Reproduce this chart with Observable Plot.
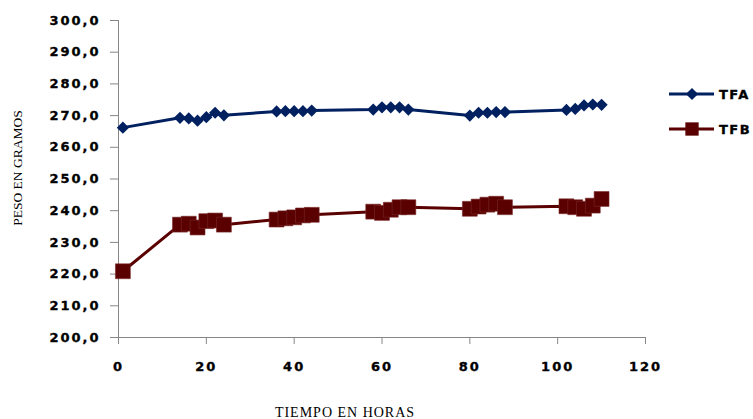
<!DOCTYPE html>
<html>
<head>
<meta charset="utf-8">
<script src="https://cdn.jsdelivr.net/npm/d3@7"></script>
<script src="https://cdn.jsdelivr.net/npm/@observablehq/plot@0.6"></script>
<style>
  html, body { margin: 0; padding: 0; background: #fff; }
  #chart { width: 753px; height: 419px; overflow: hidden; }
</style>
</head>
<body>
<div id="chart"></div>
<script>
const hours = [1, 14, 16, 18, 20, 22, 24, 36, 38, 40, 42, 44, 58, 60, 62, 64, 66, 80, 82, 84, 86, 88, 102, 104, 106, 108, 110];
const tfa = [266.2, 269.3, 269.1, 268.4, 269.5, 270.9, 270.1, 271.3, 271.4, 271.4, 271.4, 271.6, 271.9, 272.6, 272.6, 272.6, 271.9, 270.0, 270.9, 270.9, 271.1, 271.1, 271.8, 272.1, 273.2, 273.5, 273.4];
const tfb = [220.9, 235.6, 235.9, 234.7, 236.7, 236.9, 235.6, 237.2, 237.6, 237.9, 238.5, 238.7, 239.7, 239.3, 240.3, 241.1, 241.1, 240.6, 241.3, 241.9, 242.2, 241.1, 241.4, 241.1, 240.6, 241.6, 243.7];
const seriesNames = ["TFA", "TFB"];
const seriesColors = ["#002060", "#5a0000"];
const xTicks = [0, 20, 40, 60, 80, 100, 120];
const yTicks = [200, 210, 220, 230, 240, 250, 260, 270, 280, 290, 300];
const xTitle = "TIEMPO EN HORAS";
const yTitle = "PESO EN GRAMOS";

const dataA = hours.map((h, i) => ({h, v: tfa[i]}));
const dataB = hours.map((h, i) => ({h, v: tfb[i]}));

const tickFont = {fontFamily: "DejaVu Sans", fontWeight: "bold", fontSize: 13};

const chart = Plot.plot({
  width: 753,
  height: 419,
  marginLeft: 118,
  marginRight: 108,
  marginTop: 20,
  marginBottom: 82,
  style: {background: "#fff", overflow: "visible"},
  x: {domain: [0, 120]},
  y: {domain: [200, 300]},
  marks: [
    Plot.ruleY([200], {stroke: "#868686", strokeWidth: 1}),
    Plot.ruleX([0], {stroke: "#868686", strokeWidth: 1}),
    Plot.axisX({ticks: xTicks, tickSize: 7, tickPadding: 17, stroke: "#868686", label: null,
      tickFormat: d => d, fill: "#000", ...tickFont}),
    Plot.axisY({ticks: yTicks, tickSize: 8, tickPadding: 10, stroke: "#868686", label: null,
      tickFormat: d => d.toFixed(1).replace(".", ","), fill: "#000", ...tickFont}),
    Plot.line(dataB, {x: "h", y: "v", stroke: seriesColors[1], strokeWidth: 3}),
    Plot.dot(dataB, {x: "h", y: "v", symbol: "square", r: 8.4, fill: seriesColors[1], stroke: "#7a2a2a", strokeWidth: 0.6}),
    Plot.line(dataA, {x: "h", y: "v", stroke: seriesColors[0], strokeWidth: 3}),
    Plot.dot(dataA, {x: "h", y: "v", symbol: "diamond2", r: 5.5, fill: seriesColors[0]})
  ]
});

const svg = d3.select(chart);
svg.selectAll("g[aria-label='x-axis tick label'] text, g[aria-label='y-axis tick label'] text")
  .style("letter-spacing", "2px")
  .style("font-weight", "bold")
  .style("stroke", "#000")
  .style("stroke-width", "0.35px");

// axis titles
svg.append("text")
  .attr("transform", "translate(22,168) rotate(-90)")
  .attr("text-anchor", "middle")
  .style("font-family", "'Liberation Serif', 'DejaVu Serif', serif")
  .attr("font-size", 13.5)
  .attr("fill", "#000")
  .text(yTitle);
svg.append("text")
  .attr("x", 345).attr("y", 417)
  .attr("text-anchor", "middle")
  .style("font-family", "'Liberation Serif', 'DejaVu Serif', serif")
  .attr("font-size", 14)
  .attr("letter-spacing", "1px")
  .attr("fill", "#000")
  .text(xTitle);

// legend
const legendY = [94, 129];
seriesNames.forEach((name, i) => {
  const g = svg.append("g");
  g.append("line").attr("x1", 669).attr("x2", 714).attr("y1", legendY[i]).attr("y2", legendY[i])
    .attr("stroke", seriesColors[i]).attr("stroke-width", 3);
  if (i === 0) {
    g.append("path").attr("d", d3.symbol(d3.symbolDiamond2, Math.PI * 5.5 * 5.5)())
      .attr("transform", `translate(692,${legendY[i]})`).attr("fill", seriesColors[i]);
  } else {
    g.append("path").attr("d", d3.symbol(d3.symbolSquare, Math.PI * 7.5 * 7.5)())
      .attr("transform", `translate(692,${legendY[i]})`).attr("fill", seriesColors[i]);
  }
  g.append("text").attr("x", 719).attr("y", legendY[i]).attr("dy", "0.36em")
    .attr("text-anchor", "start")
    .style("font-family", "DejaVu Sans").style("font-weight", "bold").attr("font-size", 13)
    .style("stroke", "#000").style("stroke-width", "0.35px")
    .attr("letter-spacing", "1.5px").attr("fill", "#000").text(name);
});

document.getElementById("chart").appendChild(chart);
</script>
</body>
</html>
